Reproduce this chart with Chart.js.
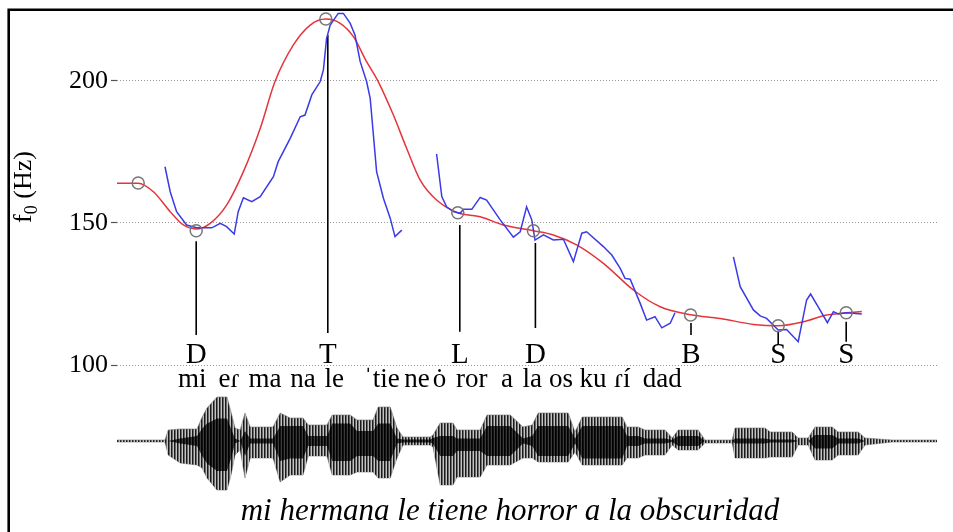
<!DOCTYPE html>
<html>
<head>
<meta charset="utf-8">
<script src="https://cdn.jsdelivr.net/npm/chart.js@4.4.0/dist/chart.umd.min.js"></script>
<style>
  html, body { margin: 0; padding: 0; background: #fff; }
  canvas { display: block; }
</style>
</head>
<body>
<canvas id="pitch" width="953" height="532"></canvas>
<script>
// measured f0 contour (s, Hz); null = unvoiced gap
const f0Times = [0.120, 0.133, 0.149, 0.174, 0.199, 0.237, 0.258, 0.274, 0.293, 0.303, 0.316, 0.337, 0.358, 0.391, 0.403,
  0.433, 0.458, 0.470, 0.487, 0.508, 0.516, 0.524, 0.533, 0.553, 0.566, 0.583, 0.595, 0.608, 0.624, 0.633, 0.649, 0.666,
  0.683, 0.695, 0.712, 0.750,
  0.799, 0.812, 0.824, 0.841, 0.858, 0.866, 0.887, 0.908, 0.924, 0.958, 0.991, 1.008, 1.024, 1.037, 1.045, 1.066, 1.091,
  1.116, 1.141, 1.162, 1.174, 1.216, 1.237, 1.258, 1.270, 1.283, 1.308, 1.324, 1.345, 1.362, 1.383, 1.395, 1.470,
  1.541, 1.558, 1.591, 1.608, 1.624, 1.653, 1.674, 1.703, 1.724, 1.734, 1.753, 1.776, 1.791, 1.803, 1.824, 1.862];
const f0Hz = [169.8, 161.0, 154.0, 149.3, 148.3, 148.3, 149.9, 148.7, 146.1, 154.0, 158.9, 157.5, 159.3, 166.3, 171.6,
  179.8, 187.4, 188.0, 195.1, 199.8, 203.9, 215.0, 219.7, 223.8, 223.8, 220.3, 216.2, 206.8, 199.8, 193.9, 168.1, 158.7,
  151.7, 145.2, 147.5, null,
  174.3, 159.3, 155.7, 154.0, 153.4, 154.8, 154.8, 159.0, 158.1, 151.1, 145.0, 146.9, 155.7, 151.1, 144.0, 145.8, 144.0,
  144.3, 136.4, 146.4, 146.9, 141.7, 138.7, 134.0, 130.5, 130.2, 121.7, 115.8, 117.0, 113.1, 114.7, 118.4, null,
  138.1, 127.6, 119.4, 117.3, 116.4, 112.3, 112.5, 108.2, 122.9, 125.0, 120.5, 114.9, 118.8, 118.0, 118.4, 118.0];

// modelled (smooth) contour
const modelTimes = [0, 0.053, 0.091, 0.133, 0.166, 0.198, 0.233, 0.274, 0.316, 0.358, 0.395, 0.441, 0.483, 0.522,
  0.558, 0.591, 0.624, 0.653, 0.691, 0.724, 0.758, 0.799, 0.852, 0.908, 0.966, 1.041, 1.091, 1.149, 1.216, 1.291,
  1.358, 1.434, 1.508, 1.591, 1.653, 1.716, 1.774, 1.823, 1.862];
const modelHz = [164.0, 164.0, 161.0, 154.0, 149.3, 147.9, 149.9, 156.3, 168.1, 183.3, 199.8, 212.7, 219.7, 221.8,
  220.3, 215.6, 206.8, 199.8, 188.0, 176.3, 165.1, 158.1, 153.6, 152.2, 149.3, 147.3, 145.8, 142.3, 135.8, 126.4,
  120.5, 117.7, 116.4, 114.3, 113.8, 115.2, 117.6, 118.4, 118.8];

// target points (circles)
const targetTimes = [0.053, 0.198, 0.522, 0.852, 1.041, 1.434, 1.653, 1.823];
const targetHz = [164.1, 147.3, 221.8, 153.6, 147.3, 117.6, 113.8, 118.4];

// tone labels and their stems
const toneLabels = ['D', 'T', 'L', 'D', 'B', 'S', 'S'];
const toneTimes = [0.198, 0.527, 0.857, 1.046, 1.435, 1.653, 1.823];
const stemTopHz = [143.6, 216.2, 149.3, 143.0, 114.8, 111.6, 115.2];
const stemBottomHz = [110.6, 111.3, 111.7, 113.0, 110.6, 107.0, 108.2];

// syllables (centre times)
const syllables = ['mi', 'eɾ', 'ma', 'na', 'le', 'ˈtie', 'ne', 'ȯ', 'ror', 'a', 'la', 'os', 'ku', 'ɾí', 'dad'];
const syllableTimes = [0.188, 0.280, 0.370, 0.465, 0.543, 0.662, 0.750, 0.806, 0.887, 0.975, 1.038, 1.110, 1.190, 1.263, 1.363];

const yTicks = [100, 150, 200];
const caption = 'mi hermana le tiene horror a la obscuridad';

// waveform envelope (relative amplitude): outer extent and dark core
const waveTimes = [0, 0.120, 0.128, 0.158, 0.200, 0.213, 0.225, 0.250, 0.275, 0.285, 0.295, 0.308, 0.320, 0.333, 0.390,
  0.408, 0.433, 0.465, 0.478, 0.525, 0.538, 0.583, 0.600, 0.640, 0.653, 0.683, 0.700, 0.715, 0.783, 0.790, 0.808, 0.840,
  0.850, 0.908, 0.925, 0.983, 1.015, 1.038, 1.053, 1.128, 1.145, 1.163, 1.263, 1.275, 1.303, 1.320, 1.370, 1.388, 1.403,
  1.453, 1.470, 1.538, 1.545, 1.620, 1.633, 1.688, 1.703, 1.728, 1.745, 1.788, 1.803, 1.853, 1.870, 1.938, 2.050];
const waveUpper = [0.02, 0.02, 0.22, 0.24, 0.24, 0.48, 0.66, 0.88, 0.88, 0.58, 0.26, 0.22, 0.56, 0.28, 0.28,
  0.56, 0.46, 0.46, 0.32, 0.32, 0.52, 0.52, 0.42, 0.42, 0.68, 0.68, 0.26, 0.08, 0.08, 0.12, 0.36, 0.36,
  0.22, 0.22, 0.52, 0.52, 0.28, 0.32, 0.56, 0.56, 0.18, 0.48, 0.48, 0.28, 0.28, 0.22, 0.22, 0.06, 0.22,
  0.22, 0.02, 0.02, 0.26, 0.26, 0.18, 0.18, 0.06, 0.06, 0.28, 0.28, 0.18, 0.18, 0.06, 0.02, 0.02];
const waveLower = [-0.02, -0.02, -0.28, -0.44, -0.48, -0.54, -0.74, -0.98, -0.98, -0.68, -0.28, -0.18, -0.74, -0.34, -0.34,
  -0.82, -0.68, -0.68, -0.30, -0.30, -0.68, -0.68, -0.62, -0.62, -0.74, -0.74, -0.34, -0.08, -0.08, -0.12, -0.88, -0.88,
  -0.72, -0.72, -0.48, -0.48, -0.34, -0.34, -0.42, -0.42, -0.22, -0.48, -0.48, -0.34, -0.34, -0.28, -0.28, -0.08, -0.18,
  -0.18, -0.04, -0.04, -0.34, -0.34, -0.32, -0.32, -0.08, -0.08, -0.38, -0.38, -0.28, -0.28, -0.08, -0.02, -0.02];
const coreUpper = [0, 0, 0, 0.05, 0.1, 0.25, 0.35, 0.45, 0.45, 0.25, 0.05, 0, 0.2, 0.05, 0.05,
  0.3, 0.3, 0.3, 0.1, 0.1, 0.35, 0.35, 0.2, 0.2, 0.35, 0.35, 0.05, 0.03, 0.03, 0.06,
  0.1, 0.1, 0.05, 0.05, 0.3, 0.3, 0.05, 0.1, 0.3, 0.3, 0.05, 0.3, 0.3, 0.1, 0.1,
  0.05, 0.05, 0.02, 0.1, 0.1, 0, 0, 0.05, 0.05, 0.03, 0.03, 0, 0, 0.12, 0.12, 0.05, 0.05, 0, 0, 0];
const coreLower = [0, 0, 0, -0.05, -0.1, -0.3, -0.45, -0.6, -0.6, -0.35, -0.05, 0, -0.3, -0.05, -0.05,
  -0.4, -0.35, -0.35, -0.1, -0.1, -0.4, -0.4, -0.3, -0.3, -0.4, -0.4, -0.05, -0.03, -0.03, -0.06,
  -0.3, -0.3, -0.2, -0.2, -0.3, -0.3, -0.05, -0.1, -0.3, -0.3, -0.05, -0.35, -0.35, -0.1, -0.1,
  -0.05, -0.05, -0.02, -0.1, -0.1, 0, 0, -0.05, -0.05, -0.03, -0.03, 0, 0, -0.15, -0.15, -0.05, -0.05, 0, 0, 0];

const serif = "'Liberation Serif', 'Times New Roman', serif";

// vertical stripe texture for the waveform
function stripePattern(ctx, cols) {
  const pc = document.createElement('canvas');
  pc.width = cols.length; pc.height = 1;
  const g = pc.getContext('2d');
  cols.forEach((c, i) => { g.fillStyle = c; g.fillRect(i, 0, 1, 1); });
  return ctx.createPattern(pc, 'repeat');
}

const pts = (xs, ys) => xs.map((t, i) => ({ x: t, y: ys[i] }));

const stemPoints = [];
toneTimes.forEach((t, i) => {
  stemPoints.push({ x: t, y: stemTopHz[i] }, { x: t, y: stemBottomHz[i] }, { x: t, y: null });
});

const extras = {
  id: 'extras',
  afterDraw(chart) {
    const { ctx, scales: { x, y } } = chart;
    const y100 = y.getPixelForValue(100);
    ctx.save();
    ctx.fillStyle = '#000';
    ctx.textAlign = 'center';
    ctx.textBaseline = 'alphabetic';

    // tone labels
    ctx.font = '29px ' + serif;
    toneLabels.forEach((lab, i) => ctx.fillText(lab, x.getPixelForValue(toneTimes[i]), y100 - 2));

    // syllables
    ctx.font = '27px ' + serif;
    syllables.forEach((s, i) => ctx.fillText(s, x.getPixelForValue(syllableTimes[i]), y100 + 22));

    // caption
    ctx.font = 'italic 31px ' + serif;
    ctx.fillText(caption, 510, 520);

    // y title f0 (Hz)
    ctx.translate(31, 187);
    ctx.rotate(-Math.PI / 2);
    ctx.textAlign = 'left';
    ctx.font = '26px ' + serif;
    const wf = ctx.measureText('f').width;
    const wh = ctx.measureText(' (Hz)').width;
    ctx.font = '18px ' + serif;
    const w0 = ctx.measureText('0').width;
    let x0 = -(wf + w0 + wh) / 2;
    ctx.font = '26px ' + serif;
    ctx.fillText('f', x0, 0);
    ctx.font = '18px ' + serif;
    ctx.fillText('0', x0 + wf, 6);
    ctx.font = '26px ' + serif;
    ctx.fillText(' (Hz)', x0 + wf + w0, 0);
    ctx.restore();

    // frame (top and left edges)
    ctx.save();
    ctx.strokeStyle = '#000';
    ctx.lineWidth = 2.6;
    ctx.beginPath();
    ctx.moveTo(953, 9.7);
    ctx.lineTo(8.7, 9.7);
    ctx.lineTo(8.7, 532);
    ctx.stroke();
    ctx.restore();
  }
};

const canvas = document.getElementById('pitch');
const ctx = canvas.getContext('2d');

new Chart(ctx, {
  type: 'line',
  data: {
    datasets: [
      {
        label: 'targets',
        data: pts(targetTimes, targetHz),
        showLine: false,
        pointStyle: 'circle',
        pointRadius: 6,
        pointBackgroundColor: 'rgba(0,0,0,0)',
        pointBorderColor: '#777',
        pointBorderWidth: 1.5,
        yAxisID: 'y'
      },
      {
        label: 'f0',
        data: pts(f0Times, f0Hz),
        borderColor: '#3a3ae6',
        borderWidth: 1.5,
        pointRadius: 0,
        tension: 0,
        spanGaps: false,
        yAxisID: 'y'
      },
      {
        label: 'model',
        data: pts(modelTimes, modelHz),
        borderColor: '#e6343c',
        borderWidth: 1.5,
        pointRadius: 0,
        cubicInterpolationMode: 'monotone',
        yAxisID: 'y'
      },
      {
        label: 'stems',
        data: stemPoints,
        borderColor: '#000',
        borderWidth: 1.6,
        pointRadius: 0,
        spanGaps: false,
        yAxisID: 'y'
      },
      {
        label: 'core+',
        data: pts(waveTimes, coreUpper),
        borderWidth: 0,
        backgroundColor: stripePattern(ctx, ['#000', '#111', '#3a3a3a']),
        fill: '+1',
        pointRadius: 0,
        yAxisID: 'yw'
      },
      {
        label: 'core-',
        data: pts(waveTimes, coreLower),
        borderWidth: 0,
        pointRadius: 0,
        fill: false,
        yAxisID: 'yw'
      },
      {
        label: 'wave+',
        data: pts(waveTimes, waveUpper),
        borderColor: '#777',
        borderWidth: 0.6,
        backgroundColor: stripePattern(ctx, ['#1a1a1a', '#6a6a6a', '#c4c4c4']),
        fill: '+1',
        pointRadius: 0,
        yAxisID: 'yw'
      },
      {
        label: 'wave-',
        data: pts(waveTimes, waveLower),
        borderColor: '#777',
        borderWidth: 0.6,
        pointRadius: 0,
        fill: false,
        yAxisID: 'yw'
      }
    ]
  },
  options: {
    responsive: false,
    animation: false,
    events: [],
    layout: { autoPadding: false, padding: { left: 0, top: 9, right: 16, bottom: 0 } },
    plugins: { legend: { display: false }, tooltip: { enabled: false } },
    scales: {
      x: { type: 'linear', min: 0, max: 2.05, display: false },
      y: {
        type: 'linear',
        min: 41.2,
        max: 225.35,
        afterBuildTicks: (s) => { s.ticks = yTicks.map(v => ({ value: v })); },
        afterFit: (s) => { s.width = 117; s.paddingTop = 0; s.paddingBottom = 0; },
        ticks: {
          font: { family: serif, size: 26 },
          color: '#000',
          padding: 3
        },
        grid: {
          color: '#999',
          lineWidth: 1,
          tickLength: 6,
          tickColor: '#555',
          tickWidth: 1.2
        },
        border: { display: false, dash: [1, 2] }
      },
      yw: { type: 'linear', min: -1.82, max: 8.64, display: false }
    }
  },
  plugins: [extras]
});
</script>
</body>
</html>
